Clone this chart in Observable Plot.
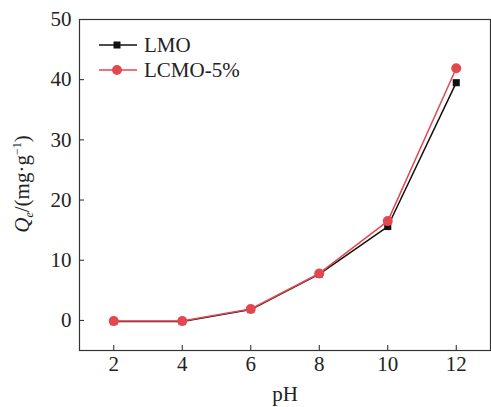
<!DOCTYPE html>
<html><head><meta charset="utf-8">
<script src="https://cdn.jsdelivr.net/npm/d3@7"></script>
<script src="https://cdn.jsdelivr.net/npm/@observablehq/plot@0.6"></script>
<style>body{margin:0;background:#fff;} svg{font-family:"Liberation Serif","Times New Roman",serif;}</style>
</head><body><div id="chart"></div>
<script>
const pH = [2, 4, 6, 8, 10, 12];
const lmo = [-0.2, -0.2, 1.8, 7.7, 15.6, 39.5];
const lcmo = [-0.1, -0.1, 1.9, 7.8, 16.5, 41.9];
const seriesNames = ["LMO", "LCMO-5%"];
const colors = ["#111111", "#e5474f"];
const xTicks = [2, 4, 6, 8, 10, 12];
const yTicks = [0, 10, 20, 30, 40, 50];

const rows = [];
pH.forEach((p, i) => { rows.push({pH: p, q: lmo[i], s: seriesNames[0]}); });
pH.forEach((p, i) => { rows.push({pH: p, q: lcmo[i], s: seriesNames[1]}); });
const lmoRows = rows.filter(d => d.s === seriesNames[0]);
const lcmoRows = rows.filter(d => d.s === seriesNames[1]);

const plot = Plot.plot({
  width: 491, height: 407,
  marginLeft: 79, marginRight: 1, marginTop: 19, marginBottom: 57,
  style: {fontFamily: '"Liberation Serif", serif', fontSize: "21px", color: "#222"},
  x: {domain: [1, 13]},
  y: {domain: [-5, 50]},
  marks: [
    Plot.axisX({ticks: xTicks, tickSize: -5, tickPadding: 11, label: null, fontSize: 21}),
    Plot.axisY({ticks: yTicks, tickSize: -5, tickPadding: 13, label: null, fontSize: 21}),
    Plot.line(lmoRows, {x: "pH", y: "q", stroke: colors[0], strokeWidth: 1.5}),
    Plot.dot(lmoRows, {x: "pH", y: "q", symbol: "square", r: 4, fill: colors[0]}),
    Plot.line(lcmoRows, {x: "pH", y: "q", stroke: colors[1], strokeWidth: 1.5}),
    Plot.dot(lcmoRows, {x: "pH", y: "q", symbol: "circle", r: 5, fill: colors[1]}),
    Plot.frame({stroke: "#333", strokeWidth: 1.2})
  ]
});
document.getElementById("chart").appendChild(plot);

const svg = d3.select(plot);
// x label
svg.append("text").attr("x", 285).attr("y", 401).attr("text-anchor", "middle")
  .attr("font-size", 21).attr("fill", "#222").text("pH");
// y label with italic Q and subscript
const yl = svg.append("text").attr("transform", "translate(29,184) rotate(-90)")
  .attr("text-anchor", "middle").attr("font-size", 21).attr("fill", "#222");
yl.append("tspan").attr("font-style", "italic").text("Q");
yl.append("tspan").attr("font-style", "italic").attr("font-size", 12).attr("dy", 4).text("e");
yl.append("tspan").attr("dy", -4).text("/(mg·g");
yl.append("tspan").attr("font-size", 12).attr("dy", -8).text("−1");
yl.append("tspan").attr("dy", 8).text(")");
// legend
const leg = svg.append("g");
seriesNames.forEach((name, i) => {
  const y = 45 + i * 25;
  leg.append("line").attr("x1", 99).attr("x2", 137).attr("y1", y).attr("y2", y)
    .attr("stroke", colors[i]).attr("stroke-width", 1.5);
  if (i === 0) leg.append("rect").attr("x", 113.5).attr("y", y - 3.5).attr("width", 7).attr("height", 7).attr("fill", colors[i]);
  else leg.append("circle").attr("cx", 117).attr("cy", y).attr("r", 5).attr("fill", colors[i]);
  leg.append("text").attr("x", 144).attr("y", y + 7).attr("text-anchor", "start")
    .attr("font-size", 21).attr("fill", "#222").text(name);
});
</script></body></html>
